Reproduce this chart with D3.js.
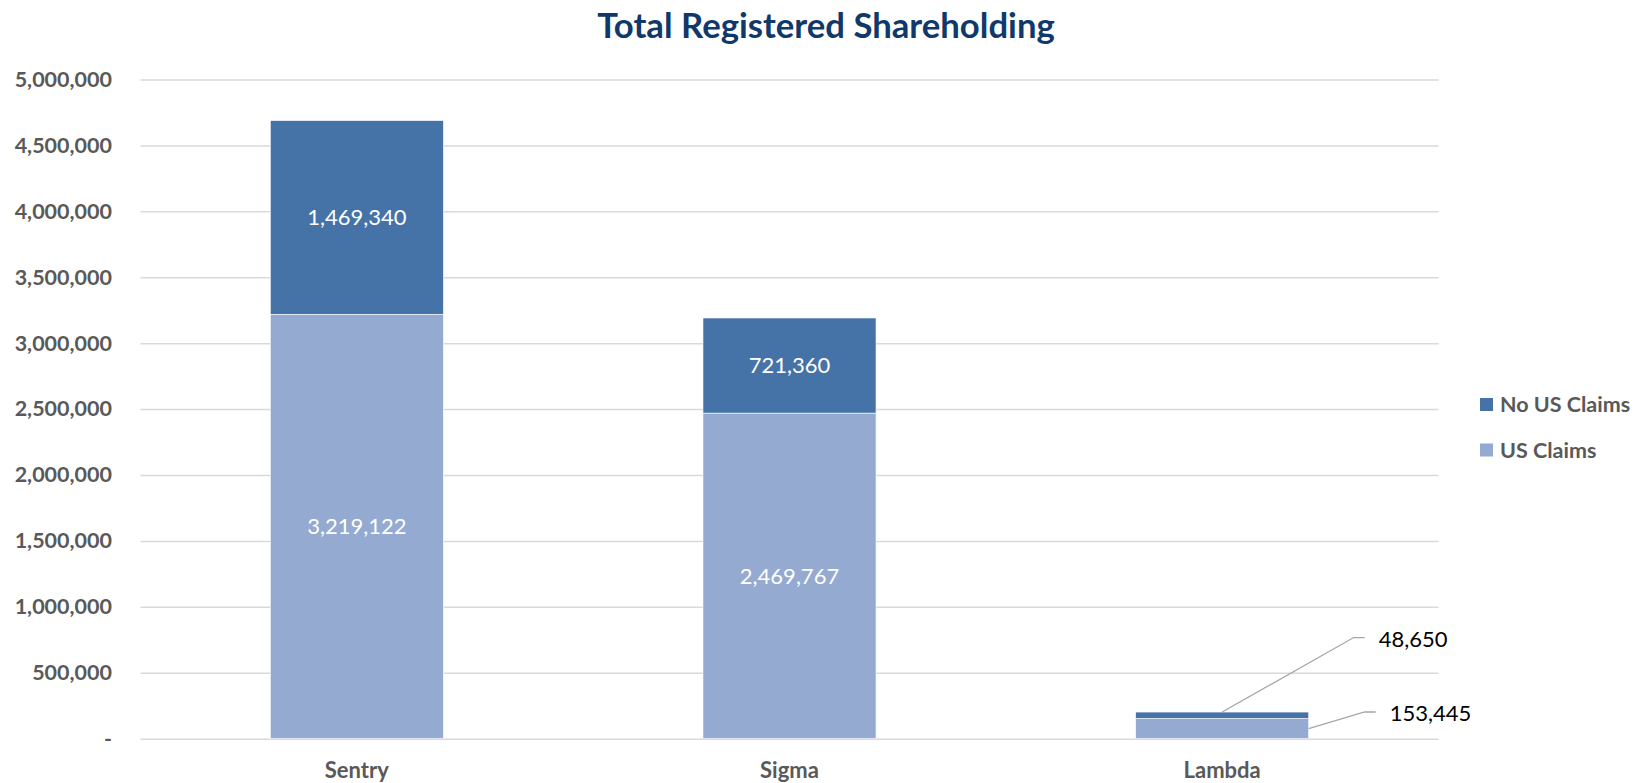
<!DOCTYPE html>
<html>
<head>
<meta charset="utf-8">
<script src="https://cdn.jsdelivr.net/npm/d3@7"></script>
<style>
  body { margin: 0; background: #fff; }
  svg { font-family: Lato, "Open Sans", sans-serif; }
</style>
</head>
<body>
<svg id="chart" width="1641" height="783"></svg>
<script>
// data
var companies = ["Sentry", "Sigma", "Lambda"];
var usClaims = [3219122, 2469767, 153445];
var noUsClaims = [1469340, 721360, 48650];
var seriesNames = ["US Claims", "No US Claims"];
var yTicks = [0, 500000, 1000000, 1500000, 2000000, 2500000, 3000000, 3500000, 4000000, 4500000, 5000000];

var colors = {"US Claims": "#95aad0", "No US Claims": "#4673a7"};

var svg = d3.select("#chart"),
    margin = {top: 79.5, left: 140.5, right: 202.5, bottom: 44.3},
    width = +svg.attr("width") - margin.left - margin.right,
    height = +svg.attr("height") - margin.top - margin.bottom,
    g = svg.append("g").attr("transform", "translate(" + margin.left + "," + margin.top + ")");

// rows for the stack
var rows = companies.map(function(c, i) {
  return {name: c, "US Claims": usClaims[i], "No US Claims": noUsClaims[i]};
});
var stacked = d3.stack().keys(seriesNames)(rows);

var x = d3.scaleBand()
  .domain(companies)
  .range([0, width])
  .paddingInner(0.6)
  .paddingOuter(0.3);

var y = d3.scaleLinear()
  .domain([0, 5000000])
  .range([height, 0]);

// gridlines + y labels
var yAxis = g.append("g")
  .attr("class", "y axis")
  .call(d3.axisLeft(y)
    .tickValues(yTicks)
    .tickSize(-width)
    .tickPadding(28.5)
    .tickFormat(function(d) { return d === 0 ? "-" : d3.format(",")(d); }));
yAxis.select(".domain").remove();
yAxis.selectAll("line").attr("stroke", "#d9d9d9").attr("stroke-width", 1.5);
yAxis.selectAll("text")
  .attr("fill", "#595959")
  .attr("font-size", 21.5)
  .attr("font-weight", "bold")
  .attr("font-family", "Lato, sans-serif");

// x labels
var xAxis = g.append("g")
  .attr("transform", "translate(0," + height + ")")
  .call(d3.axisBottom(x).tickSize(0).tickPadding(24));
xAxis.select(".domain").remove();
xAxis.selectAll("text")
  .attr("fill", "#595959")
  .attr("font-size", 22)
  .attr("font-weight", "bold")
  .attr("font-family", "Lato, sans-serif");

// bars
var layers = g.append("g").selectAll("g")
  .data(stacked)
  .enter().append("g")
  .attr("fill", function(d) { return colors[d.key]; });

layers.selectAll("rect")
  .data(function(d) { return d; })
  .enter().append("rect")
  .attr("x", function(d) { return x(d.data.name); })
  .attr("y", function(d) { return y(d[1]); })
  .attr("width", x.bandwidth())
  .attr("height", function(d) { return y(d[0]) - y(d[1]); })
  .attr("stroke", "#fff")
  .attr("stroke-width", 0.6);

// data labels: inside when the segment is tall enough, otherwise pulled out with a leader line
var fmt = d3.format(",");
var leader = {"No US Claims": {dx: 45, dy: -74.5, fromTop: true}, "US Claims": {dx: 56, dy: -16.6, fromTop: false}};

stacked.forEach(function(layer) {
  layer.forEach(function(d) {
    var v = d[1] - d[0];
    var y0 = y(d[0]), y1 = y(d[1]);
    var cx = x(d.data.name) + x.bandwidth() / 2;
    if (y0 - y1 > 30) {
      g.append("text")
        .attr("x", cx)
        .attr("y", (y0 + y1) / 2)
        .attr("dy", "0.35em")
        .attr("text-anchor", "middle")
        .attr("fill", "#fff")
        .attr("font-size", 22)
        .text(fmt(v));
    } else {
      var L = leader[layer.key];
      var right = x(d.data.name) + x.bandwidth();
      var sx = L.fromTop ? cx : right;
      var sy = L.fromTop ? y1 : (y0 + y1) / 2;
      var ex = right + L.dx, ey = sy + L.dy;
      g.append("polyline")
        .attr("points", [[sx, sy], [ex, ey], [ex + 11, ey]].join(" "))
        .attr("fill", "none")
        .attr("stroke", "#a6a6a6")
        .attr("stroke-width", 1.3);
      g.append("text")
        .attr("x", ex + 25)
        .attr("y", ey + 1.5)
        .attr("dy", "0.35em")
        .attr("fill", "#000")
        .attr("font-size", 22)
        .text(fmt(v));
    }
  });
});

// title
svg.append("text")
  .attr("x", 826)
  .attr("y", 26)
  .attr("dy", "0.35em")
  .attr("text-anchor", "middle")
  .attr("fill", "#10386b")
  .attr("font-size", 34.7)
  .attr("font-weight", "bold")
  .text("Total Registered Shareholding");

// legend
var legend = svg.append("g")
  .attr("font-size", 21.5)
  .attr("font-weight", "bold")
  .selectAll("g")
  .data(seriesNames.slice().reverse())
  .enter().append("g")
  .attr("transform", function(d, i) { return "translate(1480," + (404.5 + i * 45.5) + ")"; });

legend.append("rect")
  .attr("y", -6.5)
  .attr("width", 13)
  .attr("height", 13)
  .attr("fill", function(d) { return colors[d]; });

legend.append("text")
  .attr("x", 20)
  .attr("dy", "0.35em")
  .attr("fill", "#595959")
  .text(function(d) { return d; });
</script>
</body>
</html>
